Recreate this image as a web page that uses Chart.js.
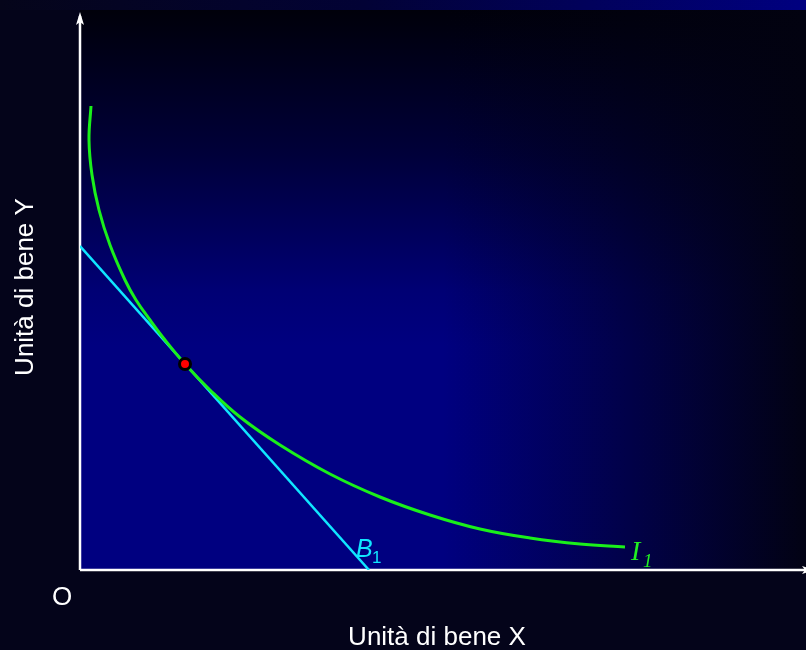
<!DOCTYPE html>
<html lang="it">
<head>
  <meta charset="UTF-8" />
  <title>Curva di indifferenza e vincolo di bilancio</title>
  <script src="https://cdn.jsdelivr.net/npm/chart.js"></script>
  <style>
    html, body { margin: 0; padding: 0; background: #04041a; overflow: hidden; }
    canvas { display: block; }
  </style>
</head>
<body>
  <canvas id="grafico" width="806" height="650"></canvas>

  <script>
    // dati (unità arbitrarie: x 0-726, y 0-560)
    const curvaX = [11, 9, 12, 19, 30, 45, 56, 70, 85, 105, 130, 160, 200, 250, 300, 350, 400, 450, 500, 545];
    const curvaY = [464, 430, 395, 360, 325, 290, 270, 250, 230, 206, 180, 153, 125, 96, 73, 55, 41, 32, 26, 23];
    const bilancioX = [0, 289];
    const bilancioY = [324, 0];
    const ottimoX = [105];
    const ottimoY = [206];

    const punti = (xs, ys) => xs.map((x, i) => ({ x: x, y: ys[i] }));

    const sfondo = {
      id: 'sfondo',
      beforeDraw(chart) {
        const c = chart.ctx;
        const a = chart.chartArea;
        c.save();
        c.fillStyle = '#04041a';
        c.fillRect(0, 0, chart.width, chart.height);

        // fascia in alto
        let g = c.createLinearGradient(0, 0, chart.width, 0);
        g.addColorStop(0, '#05051a');
        g.addColorStop(0.45, '#020235');
        g.addColorStop(1, '#000080');
        c.fillStyle = g;
        c.fillRect(0, 0, chart.width, a.top);

        // area del grafico
        g = c.createLinearGradient(0, a.top, 0, a.bottom);
        g.addColorStop(0, '#00000a');
        g.addColorStop(0.25, '#000038');
        g.addColorStop(0.5, '#000074');
        g.addColorStop(0.6, '#000080');
        g.addColorStop(1, '#000080');
        c.fillStyle = g;
        c.fillRect(a.left, a.top, a.right - a.left, a.bottom - a.top);

        g = c.createLinearGradient(a.left, 0, a.right, 0);
        g.addColorStop(0, 'rgba(2,2,16,0)');
        g.addColorStop(0.5, 'rgba(2,2,16,0)');
        g.addColorStop(1, 'rgba(2,2,16,0.97)');
        c.fillStyle = g;
        c.fillRect(a.left, a.top, a.right - a.left, a.bottom - a.top);
        c.restore();
      },
      beforeDatasetsDraw(chart) {
        const c = chart.ctx;
        const a = chart.chartArea;
        c.save();
        c.strokeStyle = '#ffffff';
        c.fillStyle = '#ffffff';
        c.lineWidth = 2.5;
        c.beginPath();
        c.moveTo(a.left, a.bottom);
        c.lineTo(a.left, a.top + 6);
        c.moveTo(a.left, a.bottom);
        c.lineTo(chart.width, a.bottom);
        c.stroke();
        // frecce
        c.beginPath();
        c.moveTo(a.left, a.top + 2);
        c.lineTo(a.left - 4, a.top + 15);
        c.lineTo(a.left, a.top + 12);
        c.lineTo(a.left + 4, a.top + 15);
        c.closePath();
        c.fill();
        c.beginPath();
        c.moveTo(chart.width + 8, a.bottom);
        c.lineTo(chart.width - 4, a.bottom - 4);
        c.lineTo(chart.width - 1, a.bottom);
        c.lineTo(chart.width - 4, a.bottom + 4);
        c.closePath();
        c.fill();
        c.restore();
      },
      afterDraw(chart) {
        const c = chart.ctx;
        const a = chart.chartArea;
        const sx = chart.scales.x, sy = chart.scales.y;
        c.save();
        c.fillStyle = '#ffffff';
        c.font = '26px "Liberation Sans", Arial, sans-serif';
        c.textBaseline = 'alphabetic';
        c.textAlign = 'center';
        c.fillText('O', 62, 605);
        c.fillText('Unità di bene X', 437, 645);
        c.save();
        c.translate(33, 287);
        c.rotate(-Math.PI / 2);
        c.fillText('Unità di bene Y', 0, 0);
        c.restore();

        // etichetta B1
        c.textAlign = 'left';
        const bx = sx.getPixelForValue(bilancioX[1]);
        c.fillStyle = '#10e6ff';
        c.font = 'italic 25px "Liberation Sans", Arial, sans-serif';
        c.fillText('B', bx - 13, a.bottom - 13);
        c.font = '17px "Liberation Sans", Arial, sans-serif';
        c.fillText('1', bx + 3, a.bottom - 7);

        // etichetta I1
        const ix = sx.getPixelForValue(curvaX[curvaX.length - 1]);
        const iy = sy.getPixelForValue(curvaY[curvaY.length - 1]);
        c.fillStyle = '#22f022';
        c.font = 'italic 28px "Liberation Serif", "Times New Roman", serif';
        c.fillText('I', ix + 6, iy + 13);
        c.font = 'italic 19px "Liberation Serif", "Times New Roman", serif';
        c.fillText('1', ix + 18, iy + 20);
        c.restore();
      }
    };

    new Chart(document.getElementById('grafico'), {
      type: 'scatter',
      data: {
        datasets: [
          {
            label: 'I1',
            data: punti(curvaX, curvaY),
            showLine: true,
            borderColor: '#1af01a',
            borderWidth: 3,
            tension: 0.4,
            pointRadius: 0,
            order: 2
          },
          {
            label: 'B1',
            data: punti(bilancioX, bilancioY),
            showLine: true,
            borderColor: '#10e6ff',
            borderWidth: 2.5,
            pointRadius: 0,
            order: 3
          },
          {
            label: 'Ottimo',
            data: punti(ottimoX, ottimoY),
            pointRadius: 5.5,
            pointBackgroundColor: '#ff0000',
            pointBorderColor: '#000000',
            pointBorderWidth: 3,
            order: 1
          }
        ]
      },
      options: {
        responsive: false,
        animation: false,
        layout: { autoPadding: false, padding: { left: 80, right: 0, top: 10, bottom: 80 } },
        plugins: {
          legend: { display: false },
          tooltip: { enabled: false }
        },
        scales: {
          x: { type: 'linear', min: 0, max: 726, display: false },
          y: { type: 'linear', min: 0, max: 560, display: false }
        }
      },
      plugins: [sfondo]
    });
  </script>
</body>
</html>
